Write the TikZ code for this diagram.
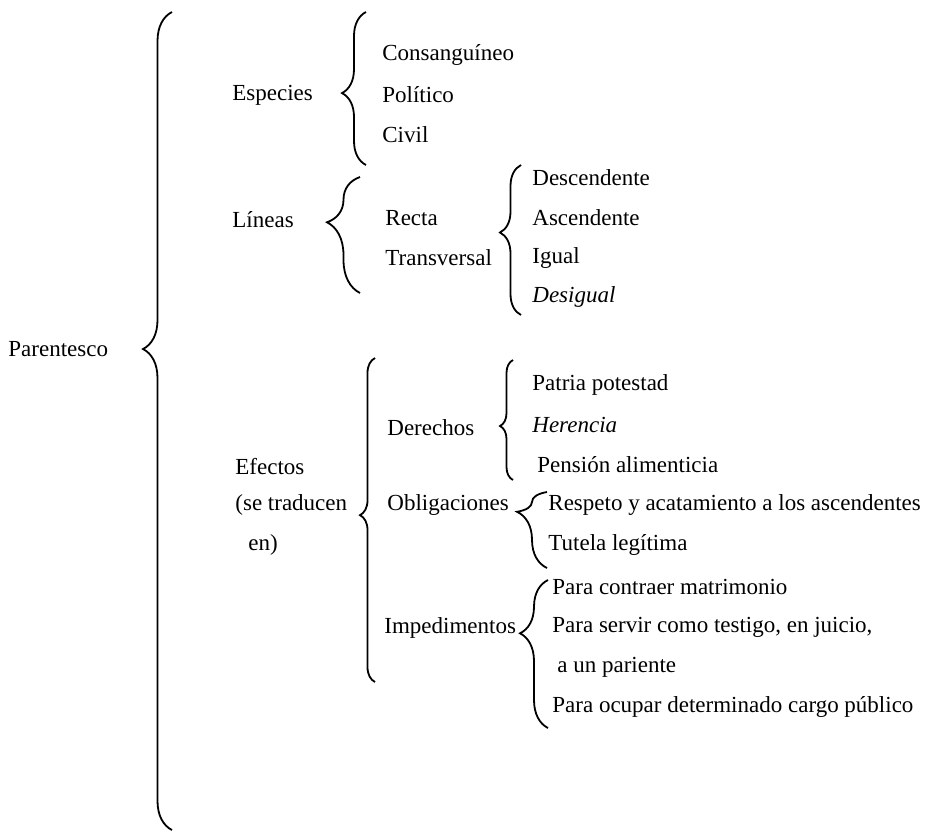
\documentclass[tikz,border=0pt]{standalone}
\usepackage{fontspec}
\setmainfont{Liberation Serif}
\usetikzlibrary{decorations.pathreplacing}

\begin{document}
\begin{tikzpicture} [x=0.5pt, y=-0.5pt,
            every node/.style={anchor=west, inner sep=0pt, font=\fontsize{11.5}{14}\selectfont},
            llave/.style 2 args={decorate, line width=0.9pt, decoration={brace, amplitude=#1, aspect=#2}}]
            \useasboundingbox (0,0) rectangle (929,832);

            \draw[llave={14.5pt}{0.588}] (172,830) -- (172,12);
            \draw[llave={12pt}{0.47}] (366,165) -- (366,12);
            \draw[llave={16.5pt}{0.61}] (360,293) -- (360,177);
            \draw[llave={10.5pt}{0.55}] (521,315) -- (521,165);
            \draw[llave={7.5pt}{0.515}] (375,682) -- (375,358);
            \draw[llave={6.5pt}{0.45}] (513,480) -- (513,360);
            \draw[llave={15pt}{0.74}] (547,568) -- (547,492);
            \draw[llave={14pt}{0.64}] (548,728) -- (548,580);

            \node (parentesco) at (8,349) {Parentesco};

            \node (especies) at (232,95) {Especies};
            \node (consanguineo) at (382,55) {Consanguíneo};
            \node (politico) at (382,95) {Político};
            \node (civil) at (382,135) {Civil};

            \node (lineas) at (232,220) {Líneas};
            \node (recta) at (385,218) {Recta};
            \node (transversal) at (385,258) {Transversal};
            \node (descendente) at (532,178) {Descendente};
            \node (ascendente) at (532,218) {Ascendente};
            \node (igual) at (532,258) {Igual};
            \node (desigual) at (532,297) {\itshape Desigual};

            \node (efectos) at (235,466) {Efectos};
            \node (traducen) at (235,505) {(se traducen};
            \node (en) at (248,545) {en)};

            \node (derechos) at (387,428) {Derechos};
            \node (patria) at (532,385) {Patria potestad};
            \node (herencia) at (532,425) {\itshape Herencia};
            \node (pension) at (537,465) {Pensión alimenticia};

            \node (obligaciones) at (387,505) {Obligaciones};
            \node (respeto) at (548,505) {Respeto y acatamiento a los ascendentes};
            \node (tutela) at (548,545) {Tutela legítima};

            \node (impedimentos) at (384,628) {Impedimentos};
            \node (contraer) at (552,587) {Para contraer matrimonio};
            \node (testigo) at (552,627) {Para servir como testigo, en juicio,};
            \node (pariente) at (557,667) {a un pariente};
            \node (cargo) at (552,707) {Para ocupar determinado cargo público};
\end{tikzpicture}
\end{document}
